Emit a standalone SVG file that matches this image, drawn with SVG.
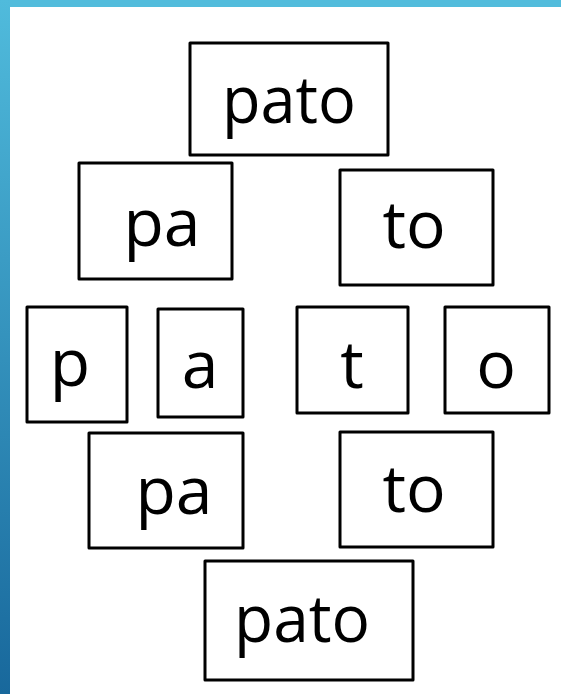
<svg xmlns="http://www.w3.org/2000/svg" width="561" height="694" viewBox="0 0 561 694">
<defs>
<linearGradient id="lb" x1="0" y1="0" x2="0" y2="1">
<stop offset="0" stop-color="#50bbdc"/>
<stop offset="1" stop-color="#18689c"/>
</linearGradient>
<style>
.box{fill:#fff;stroke:#000;stroke-width:3;stroke-linejoin:round}
.t{font-family:"Open Sans","Noto Sans",sans-serif;font-size:66px;fill:#000;text-anchor:middle}
</style>
</defs>
<rect x="0" y="0" width="561" height="694" fill="#fff"/>
<rect x="0" y="0" width="561" height="7" fill="#52bcdc"/>
<rect x="0" y="0" width="10" height="694" fill="url(#lb)"/>
<g id="connectors"/>
<g id="n-pato-top"><rect class="box" x="190" y="43" width="198" height="112"/><text class="t" x="289" y="123" textLength="134" lengthAdjust="spacingAndGlyphs">pato</text></g>
<g id="n-pa-1"><rect class="box" x="79" y="163" width="153" height="116"/><text class="t" x="162" y="246">pa</text></g>
<g id="n-to-1"><rect class="box" x="340" y="170" width="153" height="115"/><text class="t" x="414" y="248">to</text></g>
<g id="n-p"><rect class="box" x="27" y="307" width="100" height="115"/><text class="t" x="70" y="386">p</text></g>
<g id="n-a"><rect class="box" x="158" y="309" width="85" height="108"/><text class="t" x="200" y="388">a</text></g>
<g id="n-t"><rect class="box" x="297" y="307" width="111" height="106"/><text class="t" x="352" y="388">t</text></g>
<g id="n-o"><rect class="box" x="445" y="307" width="104" height="106"/><text class="t" x="496" y="388">o</text></g>
<g id="n-pa-2"><rect class="box" x="89" y="433" width="154" height="115"/><text class="t" x="174" y="514">pa</text></g>
<g id="n-to-2"><rect class="box" x="340" y="432" width="153" height="115"/><text class="t" x="414" y="512">to</text></g>
<g id="n-pato-bottom"><rect class="box" x="205" y="561" width="208" height="119"/><text class="t" x="302" y="642" textLength="136" lengthAdjust="spacingAndGlyphs">pato</text></g>
</svg>
